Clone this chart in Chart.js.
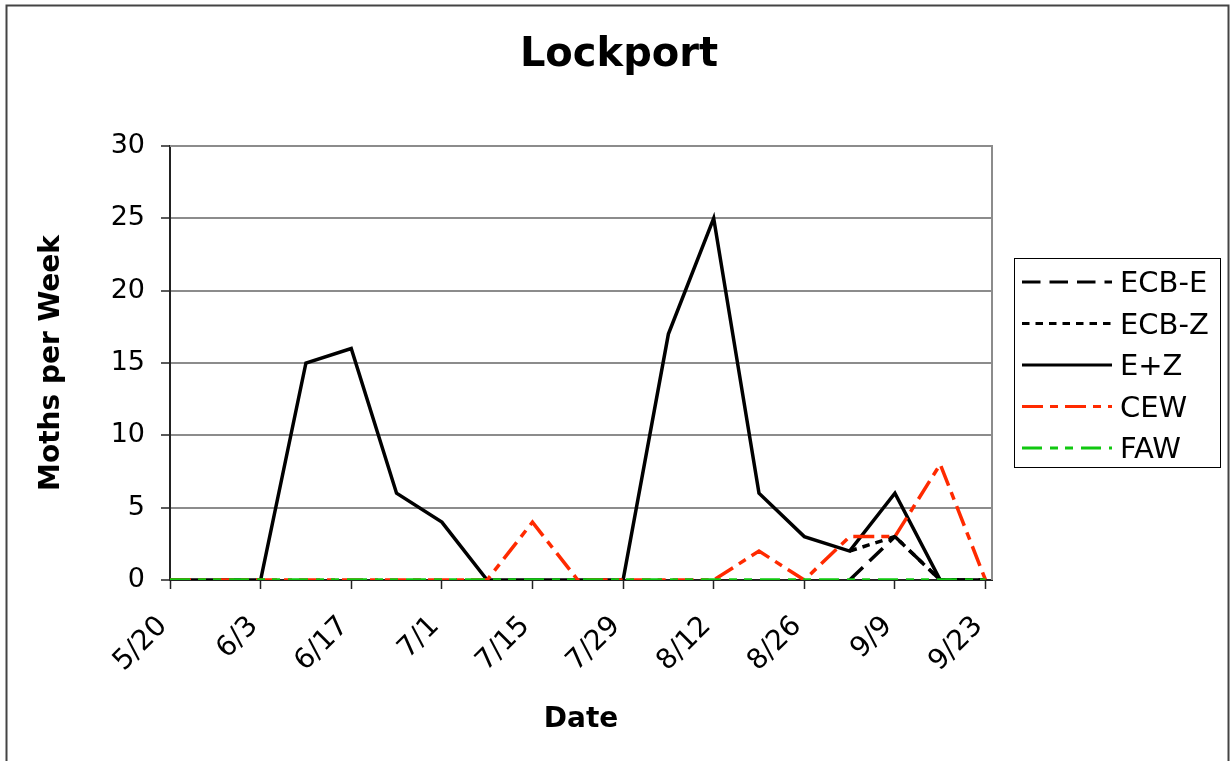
<!DOCTYPE html>
<html><head><meta charset="utf-8">
<script src="https://cdn.jsdelivr.net/npm/chart.js@4.4.1/dist/chart.umd.min.js"></script>
<style>html,body{margin:0;padding:0;background:#fff;overflow:hidden;}</style>
</head><body>
<canvas id="c" width="1231" height="761"></canvas>
<script>
// ---- data ----
const weekDates = ['5/20','5/27','6/3','6/10','6/17','6/24','7/1','7/8','7/15','7/22','7/29','8/5','8/12','8/19','8/26','9/2','9/9','9/16','9/23'];
const tickLabels = ['5/20','6/3','6/17','7/1','7/15','7/29','8/12','8/26','9/9','9/23'];
const axisEndDate = '9/24';
const yTicks = [0, 5, 10, 15, 20, 25, 30];
const ecbE = [null,null,null,null,null,null,null,null,null,null,null,null,null,null,null,0,3,0,0];
const ecbZ = [null,null,null,null,null,null,null,null,null,null,null,null,null,null,null,2,3,0,0];
const ePlusZ = [0,0,0,15,16,6,4,0,0,0,0,17,25,6,3,2,6,0,0];
const cew = [0,0,0,0,0,0,0,0,4,0,0,0,0,2,0,3,3,8,0];
const faw = [0,0,0,0,0,0,0,0,0,0,0,0,0,0,0,0,0,0,0];

// day offset from first date
function dayOf(md) {
  const [m, d] = md.split('/').map(Number);
  const [m0, d0] = weekDates[0].split('/').map(Number);
  return Math.round((Date.UTC(2009, m - 1, d) - Date.UTC(2009, m0 - 1, d0)) / 86400000);
}
const toPts = arr => arr.map((v, i) => ({ x: dayOf(weekDates[i]), y: v }));
const tickDays = tickLabels.map(dayOf);

const RED = '#FF2A00', GREEN = '#10C810';
const FONT = 'DejaVu Sans';
Chart.defaults.font.family = FONT;
Chart.defaults.color = '#000';

const frameAndLegend = {
  id: 'frameAndLegend',
  beforeDraw(chart) {
    const ctx = chart.ctx;
    ctx.save();
    ctx.fillStyle = '#fff';
    ctx.fillRect(0, 0, chart.width, chart.height);
    ctx.strokeStyle = '#444';
    ctx.lineWidth = 2;
    ctx.strokeRect(6.5, 5.5, 1222, 800);
    ctx.restore();
  },
  beforeDatasetsDraw(chart) {
    const ctx = chart.ctx, a = chart.chartArea;
    ctx.save();
    ctx.strokeStyle = '#8c8c8c';
    ctx.lineWidth = 2;
    ctx.beginPath();
    ctx.moveTo(a.left, a.top);
    ctx.lineTo(a.right, a.top);
    ctx.lineTo(a.right, a.bottom);
    ctx.stroke();
    ctx.restore();
  },
  afterDraw(chart) {
    const ctx = chart.ctx;
    ctx.save();
    ctx.strokeStyle = '#000';
    ctx.lineWidth = 1;
    ctx.strokeRect(1014.5, 258.5, 206, 209);
    chart.data.datasets.forEach((ds, i) => {
      const y = 282 + i * 41.5;
      ctx.save();
      ctx.strokeStyle = ds.borderColor;
      ctx.lineWidth = 3;
      ctx.lineCap = 'butt';
      ctx.setLineDash(ds.borderDash || []);
      ctx.beginPath();
      ctx.moveTo(1022, y);
      ctx.lineTo(1112, y);
      ctx.stroke();
      ctx.restore();
      ctx.fillStyle = '#000';
      ctx.font = '29px ' + FONT;
      ctx.textBaseline = 'alphabetic';
      ctx.textAlign = 'left';
      ctx.fillText(ds.label, 1120, y + 10);
    });
    ctx.restore();
  }
};

new Chart(document.getElementById('c'), {
  type: 'line',
  data: {
    datasets: [
      { label: 'ECB-E', data: toPts(ecbE), borderColor: '#000', borderDash: [18.5, 9], order: 4 },
      { label: 'ECB-Z', data: toPts(ecbZ), borderColor: '#000', borderDash: [7.5, 6], order: 3 },
      { label: 'E+Z', data: toPts(ePlusZ), borderColor: '#000', borderDash: [], order: 2 },
      { label: 'CEW', data: toPts(cew), borderColor: RED, borderDash: [21, 7, 8, 7], order: 1 },
      { label: 'FAW', data: toPts(faw), borderColor: GREEN, borderDash: [20, 8, 8, 7, 8, 8], order: 0 }
    ]
  },
  options: {
    responsive: false,
    animation: false,
    layout: { padding: { left: 7, right: 0, top: 0, bottom: 0 } },
    elements: {
      line: { borderWidth: 3.5, tension: 0, fill: false, borderCapStyle: 'butt', borderJoinStyle: 'miter' },
      point: { radius: 0, hoverRadius: 0 }
    },
    plugins: {
      legend: { display: false },
      tooltip: { enabled: false },
      title: {
        display: true,
        text: 'Lockport',
        color: '#000',
        font: { size: 40, weight: 'bold', family: FONT },
        padding: { top: 32, bottom: 66 }
      }
    },
    scales: {
      x: {
        type: 'linear',
        min: 0,
        max: dayOf(axisEndDate),
        afterBuildTicks: s => { s.ticks = tickDays.map(v => ({ value: v })); },
        afterFit: s => { s.height = 181; },
        ticks: {
          minRotation: 45, maxRotation: 45,
          font: { size: 28, family: FONT },
          color: '#000',
          padding: 21,
          labelOffset: -7,
          callback: (v) => { const k = tickDays.indexOf(v); return k >= 0 ? tickLabels[k] : ''; }
        },
        grid: { drawOnChartArea: false, drawTicks: true, tickLength: 9, tickColor: '#222', tickWidth: 1.5 },
        border: { display: true, color: '#222', width: 2 },
        title: { display: true, text: 'Date', color: '#000', font: { size: 28, weight: 'bold', family: FONT }, padding: { top: 0, bottom: 24 } }
      },
      y: {
        min: 0, max: 30,
        afterBuildTicks: s => { s.ticks = yTicks.map(v => ({ value: v })); },
        afterFit: s => { s.width = 163; },
        ticks: { font: { size: 27, family: FONT }, color: '#000', padding: 16 },
        grid: { color: '#8c8c8c', lineWidth: 2, tickLength: 9, tickColor: '#222', tickWidth: 1.5 },
        border: { display: true, color: '#222', width: 2 },
        title: { display: true, text: 'Moths per Week', color: '#000', font: { size: 28, weight: 'bold', family: FONT }, padding: { top: 28, bottom: 0 } }
      },
      legendSpace: {
        type: 'linear',
        position: 'right',
        axis: 'y',
        min: 0, max: 30,
        afterFit: s => { s.width = 239; },
        ticks: { display: false },
        grid: { display: false, drawTicks: false },
        border: { display: false }
      }
    }
  },
  plugins: [frameAndLegend]
});
</script>
</body></html>
